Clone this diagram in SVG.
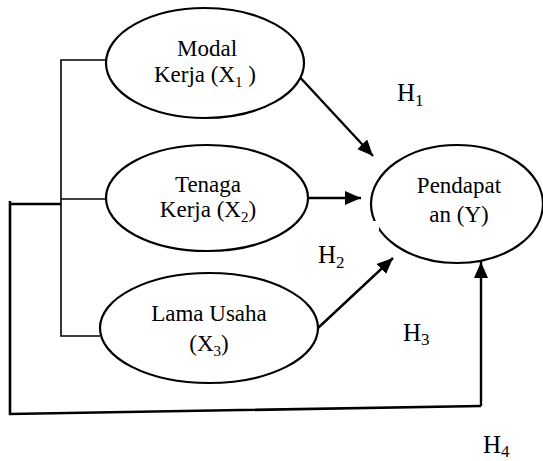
<svg xmlns="http://www.w3.org/2000/svg" width="543" height="461" viewBox="0 0 543 461">
<style>
  .node ellipse { fill: #fff; stroke: #000; stroke-width: 2.2; }
  text { font-family: "Liberation Serif", "Times New Roman", serif; font-size: 23px; fill: #000; }
  .lbl { text-anchor: middle; }
  .sub { font-size: 15px; }
  .h { font-size: 25px; }
  .hsub { font-size: 17px; }
  .thin { stroke: #000; stroke-width: 1.6; fill: none; }
  .thick { stroke: #000; stroke-width: 2.6; fill: none; }
  .arr { stroke: #000; stroke-width: 2.4; fill: none; marker-end: url(#ah); }
</style>
<defs>
  <marker id="ah" markerUnits="userSpaceOnUse" markerWidth="18" markerHeight="16" refX="16" refY="7" orient="auto">
    <path d="M0,0 L16,7 L0,14 Z" fill="#000"/>
  </marker>
</defs>

<g id="connectors">
  <path class="thin" d="M106,60 H61 V336 H100"/>
  <path class="thin" d="M61,199 H106"/>
  <path class="thick" d="M10,204 H61"/>
  <path class="thick" d="M10,201 V414 L481,406"/>
  <path class="arr" d="M481,406 V262"/>
  <path class="arr" d="M296,73 L373,156"/>
  <path class="arr" d="M308,198 L361,198"/>
  <path class="arr" d="M318,328 L393,258"/>
</g>

<g id="node-x1" class="node">
  <ellipse cx="205" cy="63" rx="99" ry="55"/>
  <text class="lbl" x="207" y="56">Modal</text>
  <text class="lbl" x="205" y="82">Kerja (X<tspan class="sub" dy="5">1</tspan><tspan dy="-5"> )</tspan></text>
</g>

<g id="node-x2" class="node">
  <ellipse cx="207" cy="198" rx="101" ry="53"/>
  <text class="lbl" x="208" y="192">Tenaga</text>
  <text class="lbl" x="208" y="217">Kerja (X<tspan class="sub" dy="5">2</tspan><tspan dy="-5">)</tspan></text>
</g>

<g id="node-x3" class="node">
  <ellipse cx="209" cy="328" rx="109" ry="55"/>
  <text class="lbl" x="209" y="321">Lama Usaha</text>
  <text class="lbl" x="209" y="351">(X<tspan class="sub" dy="5">3</tspan><tspan dy="-5">)</tspan></text>
</g>

<g id="node-y" class="node">
  <ellipse cx="457" cy="204" rx="86" ry="59"/>
  <text class="lbl" x="459" y="193">Pendapat</text>
  <text class="lbl" x="459" y="222">an (Y)</text>
</g>

<rect x="371" y="221" width="8" height="10" fill="#fff"/>
<rect x="354" y="279" width="8" height="7" fill="#fff"/>

<g id="labels">
  <text class="h" x="397" y="101">H<tspan class="hsub" dy="5">1</tspan></text>
  <text class="h" x="318" y="263">H<tspan class="hsub" dy="5">2</tspan></text>
  <text class="h" x="403" y="341">H<tspan class="hsub" dy="4">3</tspan></text>
  <text class="h" x="483" y="453">H<tspan class="hsub" dy="4">4</tspan></text>
</g>
</svg>
